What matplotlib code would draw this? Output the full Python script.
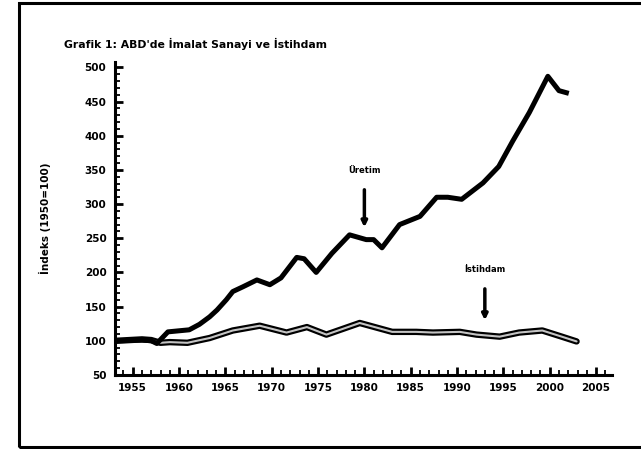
import matplotlib.pyplot as plt
from matplotlib.patches import Rectangle
from matplotlib.ticker import MultipleLocator

# Uretim (imalat sanayi uretimi), okunan degerler
prod_years = [1953.3, 1956.0, 1957.0, 1957.6, 1958.8, 1961.1, 1962.2, 1963.3,
              1964.1, 1965.1, 1965.8, 1966.9, 1968.4, 1969.8, 1971.0, 1972.7,
              1973.5, 1974.8, 1976.5, 1978.4, 1980.2, 1981.0, 1981.9, 1983.8,
              1986.0, 1987.8, 1989.0, 1990.5, 1992.8, 1994.5, 1996.0, 1997.8,
              1999.8, 2001.0, 2001.8]
prod_vals = [100, 101, 100, 96, 113, 116, 124, 135,
             145, 160, 172, 179, 189, 182, 192, 222,
             220, 200, 228, 255, 248, 248, 236, 270,
             282, 310, 310, 307, 331, 355, 392, 434,
             487, 466, 463]

# Istihdam
emp_years = [1953.3, 1956.0, 1957.0, 1958.0, 1959.0, 1960.9, 1963.3, 1965.8,
             1968.7, 1971.6, 1973.8, 1975.9, 1979.5, 1983.0, 1985.6, 1987.4,
             1990.3, 1992.1, 1994.6, 1996.7, 1999.2, 2001.3, 2002.9]
emp_vals = [100, 102, 101, 97, 98, 97, 104, 115,
            122, 112, 120, 109, 126, 113, 113, 112,
            113, 109, 106, 112, 115, 106, 99]

x_ticks = [1955, 1960, 1965, 1970, 1975, 1980, 1985, 1990, 1995, 2000, 2005]
x_labels = ['1955', '1960', '1965', '1970', '1975', '1980', '1985', '1990', '1995', '2000', '2005']
y_ticks = [50, 100, 150, 200, 250, 300, 350, 400, 450, 500]

fig = plt.figure(figsize=(6.41, 4.49), dpi=100)
ax = fig.add_axes([0.179, 0.165, 0.775, 0.697])

# istihdam: koyu kenarli acik gri cift cizgi
ax.plot(emp_years, emp_vals, color='black', lw=4.6, solid_capstyle='round')
ax.plot(emp_years, emp_vals, color='#c4c4c4', lw=1.5, solid_capstyle='round')
ax.plot(prod_years, prod_vals, color='black', lw=3.6, solid_joinstyle='round')

ax.set_xlim(1953.06, 2006.67)
ax.set_ylim(50, 508)
ax.set_xticks(x_ticks)
ax.set_xticklabels(x_labels)
ax.set_yticks(y_ticks)
ax.xaxis.set_minor_locator(MultipleLocator(1))
ax.yaxis.set_minor_locator(MultipleLocator(10))

for s in ['top', 'right']:
    ax.spines[s].set_visible(False)
for s in ['left', 'bottom']:
    ax.spines[s].set_linewidth(2.2)

ax.tick_params(which='major', direction='in', length=6, width=2, labelsize=7.5, pad=6)
ax.tick_params(which='minor', direction='in', length=3.5, width=1.3)
for lab in ax.get_xticklabels() + ax.get_yticklabels():
    lab.set_fontweight('bold')

ax.set_ylabel('İndeks (1950=100)', fontsize=7.5, fontweight='bold', labelpad=24)

fig.text(0.1, 0.902, "Grafik 1: ABD'de İmalat Sanayi ve İstihdam",
         fontsize=7.8, fontweight='bold', ha='left', va='center')

ax.annotate('', xy=(1980.0, 262), xytext=(1980.0, 325),
            arrowprops=dict(arrowstyle='-|>', color='black', lw=2.5, mutation_scale=8))
ax.text(1980.0, 349, 'Üretim', fontsize=6, fontweight='bold', ha='center', va='center')
ax.annotate('', xy=(1993.0, 126), xytext=(1993.0, 180),
            arrowprops=dict(arrowstyle='-|>', color='black', lw=2.5, mutation_scale=8))
ax.text(1993.0, 204, 'İstihdam', fontsize=6, fontweight='bold', ha='center', va='center')

# cerceve
fig.patches.append(Rectangle((0.0296, 0.0045), 1.0, 0.988, transform=fig.transFigure,
                             fill=False, lw=2.2, ec='black'))

fig.savefig('out.png', dpi=100)
